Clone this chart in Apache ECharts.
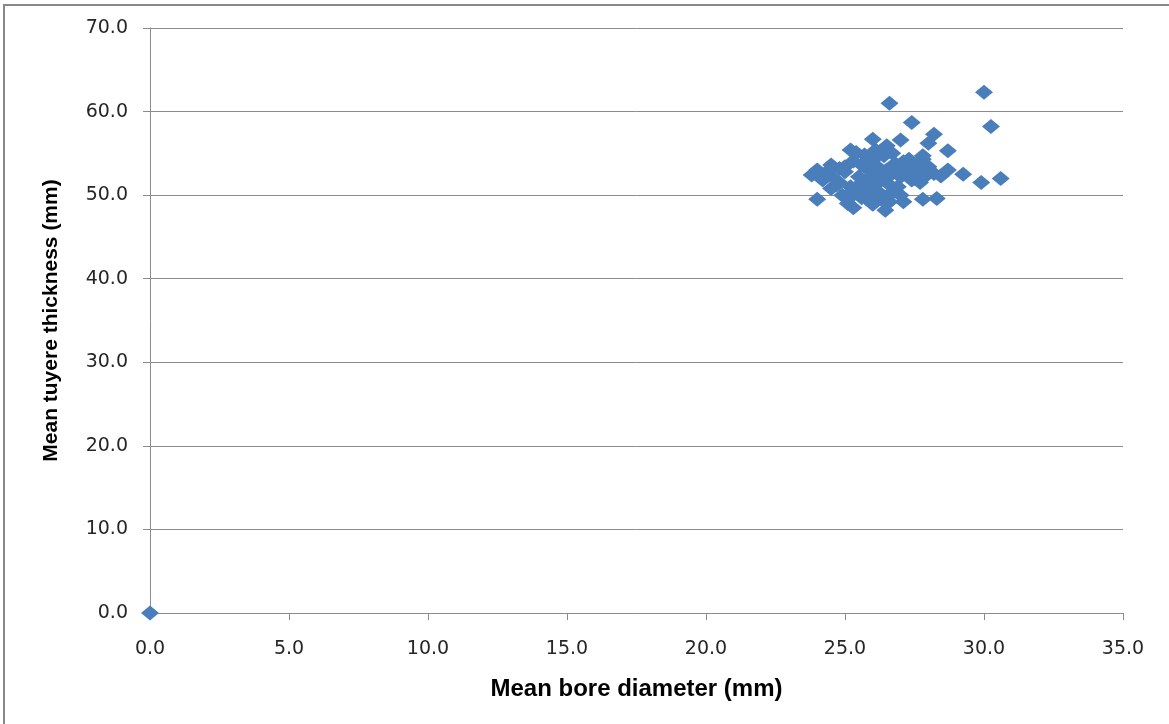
<!DOCTYPE html>
<html>
<head>
<meta charset="utf-8">
<script src="https://cdn.jsdelivr.net/npm/echarts@6/dist/echarts.min.js"></script>
<style>
  html, body { margin: 0; padding: 0; background: #ffffff; }
  #chart { width: 1169px; height: 724px; }
</style>
</head>
<body>
<div id="chart"></div>
<script>
// Mean bore diameter (mm) of each tuyere
const boreDiameter = [
  0.0,
  26.6, 30.0, 27.4, 30.25, 26.0, 27.0, 28.2, 28.0, 26.5, 25.2,
  25.4, 28.7, 27.8, 23.8, 24.0, 24.5, 24.0, 29.25, 30.6, 29.9,
  28.7, 28.45, 27.8, 28.3, 26.45, 25.3, 25.1, 27.1, 25.75, 26.0,
  24.3, 24.6, 24.8, 25.0, 25.0, 25.2, 25.4, 25.5, 25.6, 25.7,
  25.8, 25.9, 26.0, 26.1, 26.2, 26.2, 26.3, 26.4, 26.5, 26.6,
  26.7, 26.8, 26.9, 27.0, 27.1, 27.2, 27.3, 27.4, 27.5, 27.6,
  27.8, 27.9, 28.0, 24.5, 24.9, 25.1, 25.3, 25.6, 25.9, 26.0,
  26.3, 26.6, 26.8, 27.0, 25.7, 26.1, 26.4, 25.3, 24.8, 24.2,
  24.4, 25.5, 26.0, 26.5, 27.0, 27.3, 26.7, 26.2, 25.8, 27.5,
  28.2, 27.7, 26.9, 25.9, 24.7
];

// Mean tuyere wall thickness (mm) of each tuyere
const wallThickness = [
  0.0,
  61.0, 62.3, 58.7, 58.2, 56.7, 56.6, 57.3, 56.2, 55.9, 55.4,
  55.1, 55.3, 54.7, 52.4, 53.0, 53.6, 49.5, 52.5, 52.0, 51.5,
  53.0, 52.3, 49.5, 49.6, 48.2, 48.5, 49.0, 49.2, 49.7, 48.9,
  52.6, 52.0, 51.5, 52.8, 53.4, 51.0, 50.3, 52.2, 53.6, 51.6,
  50.8, 52.9, 54.2, 51.2, 50.4, 53.3, 52.0, 54.7, 51.5, 50.1,
  52.6, 53.8, 51.0, 52.2, 54.0, 53.1, 52.5, 51.8, 53.6, 52.9,
  54.3, 52.3, 53.4, 50.8, 50.0, 49.5, 50.6, 49.7, 49.3, 50.0,
  49.5, 49.2, 50.5, 50.0, 54.8, 55.4, 55.2, 54.1, 53.2, 51.8,
  52.9, 51.2, 52.4, 53.0, 53.5, 54.3, 55.0, 51.8, 51.9, 52.0,
  52.6, 51.5, 53.3, 50.9, 51.2
];

const points = boreDiameter.map((x, i) => [x, wallThickness[i]]);

const axisGrey = '#8c8c8c';
const tickFont = { fontFamily: 'DejaVu Sans', fontSize: 19, color: '#262626' };

const chart = echarts.init(document.getElementById('chart'), null, { renderer: 'canvas' });
chart.setOption({
  animation: false,
  backgroundColor: '#ffffff',
  graphic: [{
    type: 'rect',
    shape: { x: 4, y: 5, width: 1200, height: 760 },
    style: { fill: 'none', stroke: '#888888', lineWidth: 2 },
    silent: true,
    z: -1
  }],
  grid: { left: 150, right: 46, top: 28, bottom: 111, containLabel: false },
  xAxis: {
    type: 'value',
    min: 0, max: 35, interval: 5,
    name: 'Mean bore diameter (mm)',
    nameLocation: 'middle',
    nameGap: 64,
    nameTextStyle: { fontFamily: 'Liberation Sans', fontWeight: 'bold', fontSize: 24, color: '#000000' },
    axisLine: { show: true, lineStyle: { color: axisGrey, width: 1 } },
    axisTick: { show: true, inside: false, length: 7, lineStyle: { color: axisGrey } },
    axisLabel: Object.assign({ margin: 27, formatter: v => v.toFixed(1) }, tickFont),
    splitLine: { show: false }
  },
  yAxis: {
    type: 'value',
    min: 0, max: 70, interval: 10,
    name: 'Mean tuyere thickness (mm)',
    nameLocation: 'middle',
    nameGap: 88,
    nameRotate: 90,
    nameTextStyle: { fontFamily: 'Liberation Sans', fontWeight: 'bold', fontSize: 21, color: '#000000' },
    axisLine: { show: true, lineStyle: { color: axisGrey, width: 1 } },
    axisTick: { show: true, inside: false, length: 7, lineStyle: { color: axisGrey } },
    axisLabel: Object.assign({ margin: 22, formatter: v => v.toFixed(1) }, tickFont),
    splitLine: { show: true, lineStyle: { color: axisGrey, width: 1 } }
  },
  series: [{
    type: 'scatter',
    data: points,
    symbol: 'diamond',
    symbolSize: [18, 15],
    itemStyle: { color: '#4a7ebb', opacity: 1 },
    clip: false
  }]
});
</script>
</body>
</html>
